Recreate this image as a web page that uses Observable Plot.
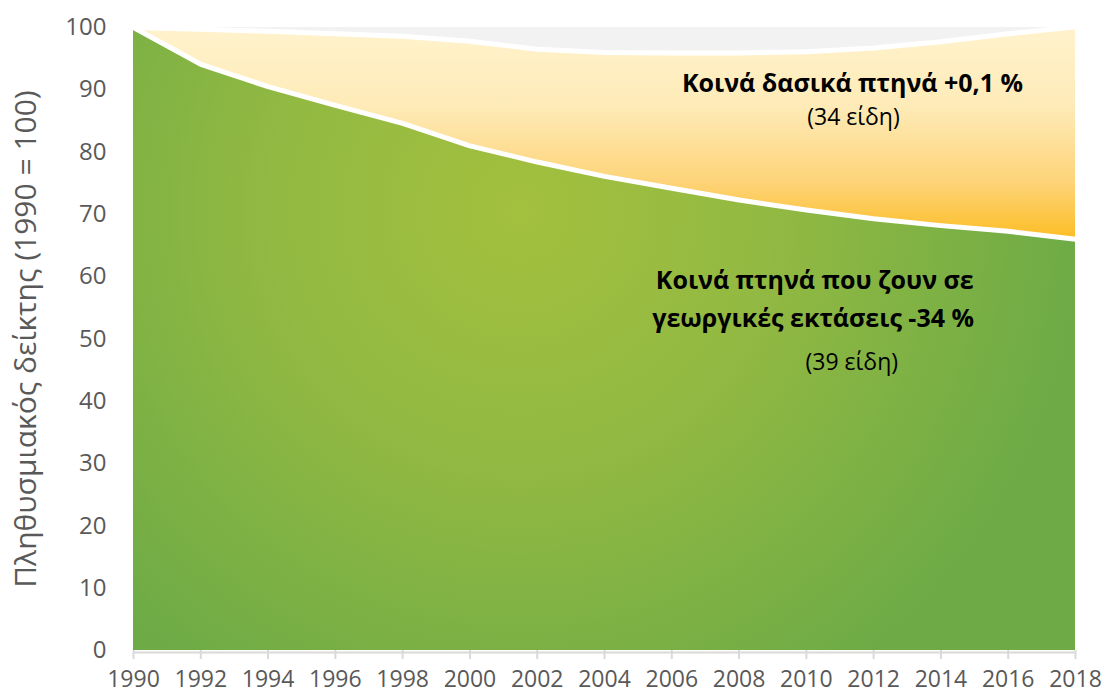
<!DOCTYPE html>
<html>
<head>
<meta charset="utf-8">
<script src="https://cdn.jsdelivr.net/npm/d3@7"></script>
<script src="https://cdn.jsdelivr.net/npm/@observablehq/plot@0.6"></script>
<style>
  html, body { margin: 0; padding: 0; background: #fff; }
  #chart svg { display: block; font-family: "Open Sans", "Noto Sans", sans-serif; }
</style>
</head>
<body>
<div id="chart"></div>
<script>
// ---- data ----
const years = [1990, 1992, 1994, 1996, 1998, 2000, 2002, 2004, 2006, 2008, 2010, 2012, 2014, 2016, 2018];
const forestBirds = [100, 99.7, 99.4, 99.0, 98.6, 97.8, 96.5, 96.0, 95.9, 95.9, 96.1, 96.7, 97.7, 99.0, 100.1];
const farmlandBirds = [100, 94.1, 90.5, 87.5, 84.6, 81.0, 78.4, 76.1, 74.2, 72.3, 70.7, 69.3, 68.2, 67.3, 66.0];
const yTicks = [0, 10, 20, 30, 40, 50, 60, 70, 80, 90, 100];
const xTicks = years;
const yTitle = "Πληθυσμιακός δείκτης (1990 = 100)";

// annotation labels (text, anchor year, anchor index value, weight)
const labelText = ["Κοινά δασικά πτηνά +0,1 %", "(34 είδη)", "Κοινά πτηνά που ζουν σε", "γεωργικές εκτάσεις -34 %", "(39 είδη)"];
const labelYear = [2011.37, 2011.4, 2010.25, 2010.2, 2011.35];
const labelValue = [91.0, 85.6, 59.3, 53.2, 46.2];
const labelBold = [true, false, true, true, false];

const forest = years.map((y, i) => ({year: y, value: forestBirds[i]}));
const farm = years.map((y, i) => ({year: y, value: farmlandBirds[i]}));
const labels = labelText.map((t, i) => ({text: t, year: labelYear[i], value: labelValue[i], bold: labelBold[i]}));

const plot = Plot.plot({
  width: 1105,
  height: 695,
  marginLeft: 133,
  marginRight: 30,
  marginTop: 27,
  marginBottom: 45,
  x: {domain: [1990, 2018]},
  y: {domain: [0, 100]},
  style: {fontFamily: '"Open Sans", "Noto Sans", sans-serif', background: "#fff"},
  marks: [
    Plot.areaY(forest, {x: "year", y1: "value", y2: () => 100, fill: "#f2f2f2"}),
    Plot.areaY(forest, {x: "year", y: "value", fill: "url(#yellowGrad)"}),
    Plot.lineY(forest, {x: "year", y: "value", stroke: "#fff", strokeWidth: 5}),
    Plot.areaY(farm, {x: "year", y: "value", fill: "url(#greenGrad)"}),
    Plot.lineY(farm, {x: "year", y: "value", stroke: "#fff", strokeWidth: 5}),
    Plot.ruleY([0], {stroke: "#d9d9d9", strokeWidth: 2, dy: 2}),
    Plot.axisY(yTicks, {tickSize: 0, tickPadding: 27, fontSize: 24, fill: "#595959", label: null}),
    Plot.axisX(xTicks, {tickSize: 9, tickPadding: 11, fontSize: 23, fill: "#595959", stroke: "#d9d9d9", strokeWidth: 2, tickFormat: d => String(d), label: null}),
    Plot.text([yTitle], {frameAnchor: "left", textAnchor: "middle", rotate: -90, dx: -107, fontSize: 30, fill: "#595959", text: d => d}),
    Plot.text(labels.filter(d => d.bold), {x: "year", y: "value", text: "text", fontSize: 25, fontWeight: "bold", fill: "#000"}),
    Plot.text(labels.filter(d => !d.bold), {x: "year", y: "value", text: "text", fontSize: 23, fill: "#000"})
  ]
});

const svg = d3.select(plot);
const defs = svg.insert("defs", ":first-child");
const yg = defs.append("linearGradient").attr("id", "yellowGrad")
  .attr("gradientUnits", "userSpaceOnUse").attr("x1", 0).attr("y1", 30).attr("x2", 0).attr("y2", 245);
yg.append("stop").attr("offset", "0").attr("stop-color", "#fff2cc");
yg.append("stop").attr("offset", "0.35").attr("stop-color", "#feebb8");
yg.append("stop").attr("offset", "0.7").attr("stop-color", "#fdd47a");
yg.append("stop").attr("offset", "1").attr("stop-color", "#fcbb1c");
const gg = defs.append("radialGradient").attr("id", "greenGrad")
  .attr("gradientUnits", "userSpaceOnUse").attr("cx", 520).attr("cy", 210).attr("r", 560);
gg.append("stop").attr("offset", "0").attr("stop-color", "#a3c03e");
gg.append("stop").attr("offset", "0.45").attr("stop-color", "#92b942");
gg.append("stop").attr("offset", "1").attr("stop-color", "#6eab46");

document.getElementById("chart").appendChild(plot);
</script>
</body>
</html>
